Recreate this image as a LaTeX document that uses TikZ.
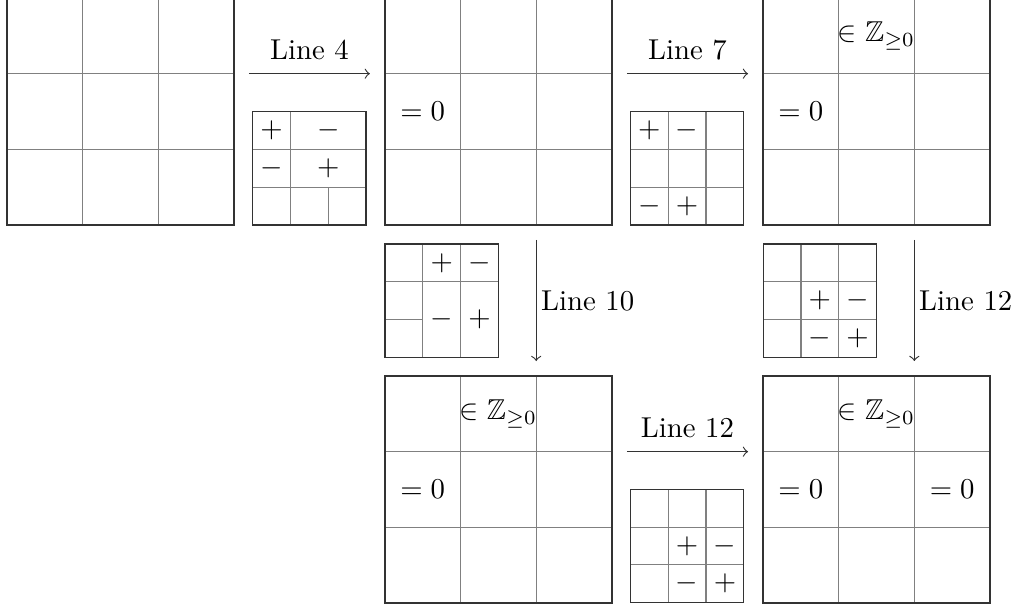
\documentclass[tikz,border=0pt]{standalone}
\usepackage{amssymb}
\usetikzlibrary{calc}
\begin{document}
\begin{tikzpicture}[x=0.3477pt,y=-0.3477pt,
  bigm/.style={draw=black!80, line width=0.45pt, minimum width=78.93pt, minimum height=78.93pt, inner sep=0pt, outer sep=0pt},
  smallm/.style={draw=black!80, line width=0.45pt, minimum width=39.4pt, minimum height=39.4pt, inner sep=0pt, outer sep=0pt},
  gridline/.style={draw=black!50, line width=0.4pt},
  arr/.style={->, draw=black!80, line width=0.4pt, shorten <=5.2pt, shorten >=5.2pt},
  toplbl/.style={above=1.2pt},
  sidelbl/.style={right, inner sep=1.5pt},
  cell/.style={inner sep=0pt}]
\def\B{75.67}
\def\S{37.78}
\useasboundingbox (0,0) rectangle (1019,609);

% big matrices
\node[bigm] (M1) at (120.5,111.5) {};
\node[bigm] (M2) at (498.35,111.5) {};
\node[bigm] (M3) at (876.5,111.5) {};
\node[bigm] (M4) at (498.35,489.5) {};
\node[bigm] (M5) at (876.5,489.5) {};

% small matrices
\node[smallm] (S1) at (309.35,168.35) {};
\node[smallm] (S2) at (687.15,168.35) {};
\node[smallm] (S3) at (441.7,300.65) {};
\node[smallm] (S4) at (819.85,300.65) {};
\node[smallm] (S5) at (687.15,545.95) {};

% big grids
\foreach \m in {M1,M2,M3,M4,M5}{
  \begin{scope}[shift={(\m.north west)}]
    \draw[gridline] (\B,0) -- (\B,3*\B) (2*\B,0) -- (2*\B,3*\B)
                    (0,\B) -- (3*\B,\B) (0,2*\B) -- (3*\B,2*\B);
  \end{scope}
}

% big matrix contents
\begin{scope}[shift={(M2.north west)}]
  \node[cell] (m2a) at (0.5*\B,1.5*\B) {$=0$};
\end{scope}
\begin{scope}[shift={(M3.north west)}]
  \node[cell] (m3a) at (1.5*\B,0.5*\B) {$\in\mathbb{Z}_{\geq0}$};
  \node[cell] (m3b) at (0.5*\B,1.5*\B) {$=0$};
\end{scope}
\begin{scope}[shift={(M4.north west)}]
  \node[cell] (m4a) at (1.5*\B,0.5*\B) {$\in\mathbb{Z}_{\geq0}$};
  \node[cell] (m4b) at (0.5*\B,1.5*\B) {$=0$};
\end{scope}
\begin{scope}[shift={(M5.north west)}]
  \node[cell] (m5a) at (1.5*\B,0.5*\B) {$\in\mathbb{Z}_{\geq0}$};
  \node[cell] (m5b) at (0.5*\B,1.5*\B) {$=0$};
  \node[cell] (m5c) at (2.5*\B,1.5*\B) {$=0$};
\end{scope}

% small matrix S1 (Line 4)
\begin{scope}[shift={(S1.north west)}]
  \draw[gridline] (\S,0) -- (\S,3*\S) (2*\S,2*\S) -- (2*\S,3*\S)
                  (0,\S) -- (3*\S,\S) (0,2*\S) -- (3*\S,2*\S);
  \node[cell] (s1a) at (0.5*\S,0.5*\S) {$+$};
  \node[cell] (s1b) at (2*\S,0.5*\S) {$-$};
  \node[cell] (s1c) at (0.5*\S,1.5*\S) {$-$};
  \node[cell] (s1d) at (2*\S,1.5*\S) {$+$};
\end{scope}

% small matrix S2 (Line 7)
\begin{scope}[shift={(S2.north west)}]
  \draw[gridline] (\S,0) -- (\S,3*\S) (2*\S,0) -- (2*\S,3*\S)
                  (0,\S) -- (3*\S,\S) (0,2*\S) -- (3*\S,2*\S);
  \node[cell] (s2a) at (0.5*\S,0.5*\S) {$+$};
  \node[cell] (s2b) at (1.5*\S,0.5*\S) {$-$};
  \node[cell] (s2c) at (0.5*\S,2.5*\S) {$-$};
  \node[cell] (s2d) at (1.5*\S,2.5*\S) {$+$};
\end{scope}

% small matrix S3 (Line 10)
\begin{scope}[shift={(S3.north west)}]
  \draw[gridline] (\S,0) -- (\S,3*\S) (2*\S,0) -- (2*\S,3*\S)
                  (0,\S) -- (3*\S,\S) (0,2*\S) -- (\S,2*\S);
  \node[cell] (s3a) at (1.5*\S,0.5*\S) {$+$};
  \node[cell] (s3b) at (2.5*\S,0.5*\S) {$-$};
  \node[cell] (s3c) at (1.5*\S,2*\S) {$-$};
  \node[cell] (s3d) at (2.5*\S,2*\S) {$+$};
\end{scope}

% small matrices S4, S5 (Line 12)
\foreach \m/\n in {S4/s4,S5/s5}{
  \begin{scope}[shift={(\m.north west)}]
    \draw[gridline] (\S,0) -- (\S,3*\S) (2*\S,0) -- (2*\S,3*\S)
                    (0,\S) -- (3*\S,\S) (0,2*\S) -- (3*\S,2*\S);
    \node[cell] (\n a) at (1.5*\S,1.5*\S) {$+$};
    \node[cell] (\n b) at (2.5*\S,1.5*\S) {$-$};
    \node[cell] (\n c) at (1.5*\S,2.5*\S) {$-$};
    \node[cell] (\n d) at (2.5*\S,2.5*\S) {$+$};
  \end{scope}
}

% redraw outer borders on top
\foreach \m in {M1,M2,M3,M4,M5,S1,S2,S3,S4,S5}{
  \draw[draw=black!80, line width=0.45pt] (\m.north west) rectangle (\m.south east);
}

% arrows
\draw[arr] ($(M1.north east)!1/3!(M1.south east)$) -- ($(M2.north west)!1/3!(M2.south west)$)
  node[midway, toplbl] (l4) {Line 4};
\draw[arr] ($(M2.north east)!1/3!(M2.south east)$) -- ($(M3.north west)!1/3!(M3.south west)$)
  node[midway, toplbl] (l7) {Line 7};
\draw[arr] ($(M2.south west)!2/3!(M2.south east)$) -- ($(M4.north west)!2/3!(M4.north east)$)
  node[midway, sidelbl] (l10) {Line 10};
\draw[arr] ($(M3.south west)!2/3!(M3.south east)$) -- ($(M5.north west)!2/3!(M5.north east)$)
  node[midway, sidelbl] (l12a) {Line 12};
\draw[arr] ($(M4.north east)!1/3!(M4.south east)$) -- ($(M5.north west)!1/3!(M5.south west)$)
  node[midway, toplbl] (l12b) {Line 12};
\end{tikzpicture}
\end{document}
